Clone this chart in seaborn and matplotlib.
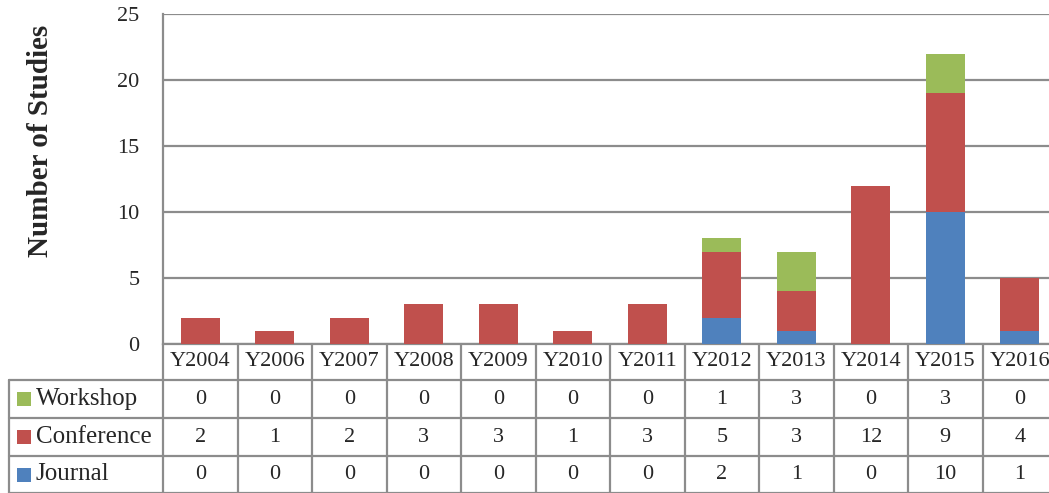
import matplotlib
matplotlib.use("Agg")
import matplotlib.pyplot as plt
import matplotlib.transforms as mtransforms
from matplotlib.patches import Rectangle
import seaborn as sns
import pandas as pd

years = ["Y2004", "Y2006", "Y2007", "Y2008", "Y2009", "Y2010",
         "Y2011", "Y2012", "Y2013", "Y2014", "Y2015", "Y2016"]
journal = [0, 0, 0, 0, 0, 0, 0, 2, 1, 0, 10, 1]
conference = [2, 1, 2, 3, 3, 1, 3, 5, 3, 12, 9, 4]
workshop = [0, 0, 0, 0, 0, 0, 0, 1, 3, 0, 3, 0]

series_names = ["Journal", "Conference", "Workshop"]
series_colors = {"Journal": "#4F81BD", "Conference": "#C0504D", "Workshop": "#9BBB59"}

df = pd.DataFrame({"year": years, "Journal": journal,
                   "Conference": conference, "Workshop": workshop})

sns.set_theme(style="white")
plt.rcParams["font.family"] = ["Liberation Serif", "DejaVu Serif"]

W, H = 1049, 493
fig = plt.figure(figsize=(W / 100, H / 100), dpi=100)
ax_left, ax_right, ax_top, ax_bottom = 163, 1057, 14, 344
ax = fig.add_axes([ax_left / W, 1 - ax_bottom / H,
                   (ax_right - ax_left) / W, (ax_bottom - ax_top) / H])

# stacked bars: journal at the base, then conference, then workshop
bottom = [0] * len(years)
for name in series_names:
    sns.barplot(data=df, x="year", y=name, bottom=bottom, color=series_colors[name],
                width=0.52, saturation=1, ax=ax, linewidth=0, zorder=3)
    bottom = [b + v for b, v in zip(bottom, df[name])]

grid_color = "#8C8C8C"
span = ax_bottom - ax_top
unit = (ax_right - ax_left) / len(years)
ax.set_ylim(0, 25)
ax.set_xlim(-0.5, len(years) - 0.5)
ax.set_yticks(range(0, 26, 5))
ax.yaxis.grid(True, color=grid_color, linewidth=1.6, zorder=0)
ax.xaxis.grid(False)
ax.tick_params(axis="y", length=0, pad=17, labelsize=16)
ax.set_xticks([])
ax.set_xlabel("")
ax.set_ylabel("Number of Studies", fontsize=21, fontweight="bold")
ax.yaxis.set_label_coords((54 - ax_left) / (ax_right - ax_left),
                          (ax_bottom - 141) / span)
for side in ["top", "right"]:
    ax.spines[side].set_visible(False)
for side in ["left", "bottom"]:
    ax.spines[side].set_color(grid_color)
    ax.spines[side].set_linewidth(1.6)

# data table below the plot: x in data units, y in axes fraction
trans = mtransforms.blended_transform_factory(ax.transData, ax.transAxes)
row_px = [344, 380, 418, 456, 493]
row_y = [(ax_bottom - p) / span for p in row_px]
x_left = -0.5 + (9 - ax_left) / unit
x_right = len(years) - 0.5

line_kw = dict(color=grid_color, linewidth=1.6, transform=trans, clip_on=False)
for i in range(len(years) + 1):
    ax.plot([i - 0.5, i - 0.5], [row_y[0], row_y[-1]], **line_kw)
ax.plot([x_left, x_left], [row_y[1], row_y[-1]], **line_kw)
for y in row_y[1:]:
    ax.plot([x_left, x_right], [y, y], **line_kw)

text_kw = dict(transform=trans, ha="center", va="center", clip_on=False)
hy = (row_y[0] + row_y[1]) / 2
for i, yr in enumerate(years):
    ax.text(i, hy, yr, fontsize=16, **text_kw)

table_rows = [("Workshop", workshop), ("Conference", conference), ("Journal", journal)]
sq_h = 14 / span
for r, (name, vals) in enumerate(table_rows):
    yc = (row_y[r + 1] + row_y[r + 2]) / 2
    for i, v in enumerate(vals):
        ax.text(i, yc, str(v), fontsize=16, **text_kw)
    ax.add_patch(Rectangle((-0.5 + (17 - ax_left) / unit, yc - sq_h / 2),
                           14 / unit, sq_h, transform=trans,
                           facecolor=series_colors[name], edgecolor="none",
                           clip_on=False))
    ax.text(-0.5 + (36 - ax_left) / unit, yc, name, fontsize=18,
            transform=trans, ha="left", va="center", clip_on=False)

fig.savefig("out.png", dpi=100)
